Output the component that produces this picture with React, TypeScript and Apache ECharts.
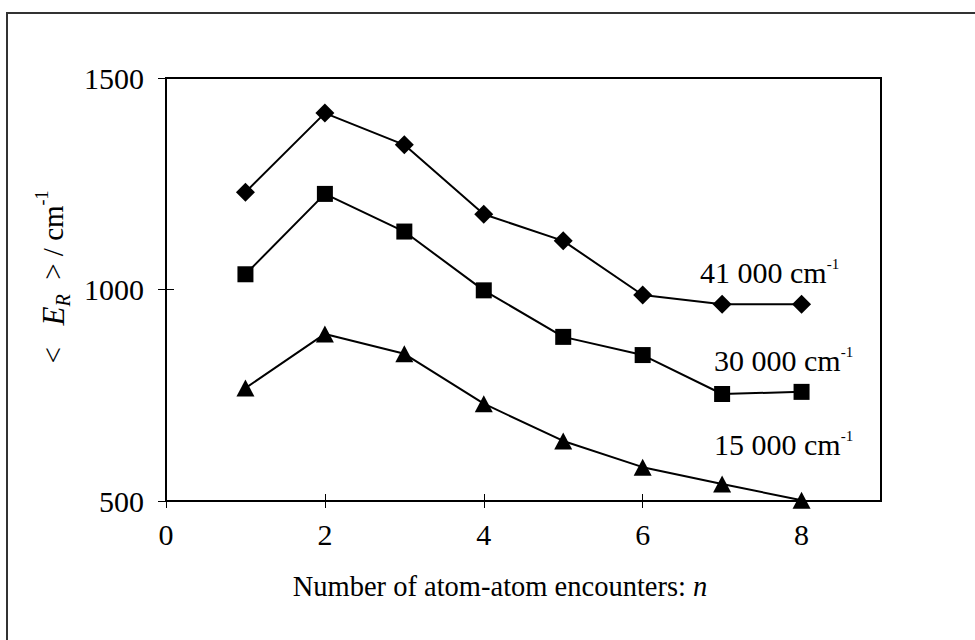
import React, { useEffect, useRef } from "react";
import * as echarts from "echarts";

// Number of atom-atom encounters n
const nValues = [1, 2, 3, 4, 5, 6, 7, 8];
// <E_R> / cm-1 for three excitation energies
const e41000 = [1230, 1417, 1342, 1178, 1115, 987, 965, 965];
const e30000 = [1036, 1226, 1137, 998, 888, 845, 753, 758];
const e15000 = [767, 895, 848, 730, 642, 580, 540, 502];
const seriesNames = ["41 000", "30 000", "15 000"];
const xTitle = "Number of atom-atom encounters: ";

const FONT = '"Liberation Serif", "Times New Roman", Times, serif';

export default function App() {
  const ref = useRef<HTMLDivElement>(null);

  useEffect(() => {
    document.body.style.margin = "0";
    const chart = echarts.init(ref.current as HTMLDivElement, null, { renderer: "svg" });
    const pts = (vals: number[]) => nValues.map((n, i) => [n, vals[i]]);
    const lineBase = {
      type: "line",
      xAxisIndex: 0,
      yAxisIndex: 0,
      lineStyle: { color: "#000", width: 2 },
      itemStyle: { color: "#000", borderWidth: 0 },
      emphasis: { disabled: true },
      silent: true,
    };
    const tickStyle = { color: "#000", width: 1 };
    const plain = (v: number) => String(v);
    const seriesLabel = (name: string, x: number, y: number) => ({
      type: "text",
      x,
      y,
      silent: true,
      style: {
        text: `{a|${name} cm}{s|-1}`,
        verticalAlign: "middle",
        align: "left",
        rich: {
          a: { fontFamily: FONT, fontSize: 30, fill: "#000", lineHeight: 32, verticalAlign: "middle" },
          s: { fontFamily: FONT, fontSize: 15, fill: "#000", lineHeight: 15, verticalAlign: "top" },
        },
      },
    });

    const option: any = {
      animation: false,
      backgroundColor: "#fff",
      textStyle: { fontFamily: FONT, color: "#000" },
      grid: {
        left: 166,
        top: 78,
        right: 94,
        bottom: 139,
        show: true,
        borderColor: "#000",
        borderWidth: 2,
        backgroundColor: "transparent",
      },
      xAxis: [
        {
          type: "value",
          min: 0,
          max: 9,
          interval: 2,
          position: "bottom",
          axisLine: { show: true, onZero: false, lineStyle: { color: "#000", width: 2 } },
          axisTick: { show: true, length: 7, lineStyle: tickStyle },
          axisLabel: { fontSize: 30, color: "#000", margin: 18, fontFamily: FONT, showMaxLabel: false, formatter: plain },
          splitLine: { show: false },
        },
        {
          type: "value",
          min: 0,
          max: 9,
          interval: 2,
          position: "bottom",
          axisLine: { show: false, onZero: false },
          axisTick: { show: true, inside: true, length: 7, lineStyle: tickStyle },
          axisLabel: { show: false },
          splitLine: { show: false },
        },
      ],
      yAxis: [
        {
          type: "value",
          min: 500,
          max: 1500,
          interval: 500,
          position: "left",
          axisLine: { show: true, onZero: false, lineStyle: { color: "#000", width: 2 } },
          axisTick: { show: true, length: 8, lineStyle: tickStyle },
          axisLabel: { fontSize: 30, color: "#000", margin: 22, fontFamily: FONT, formatter: plain },
          splitLine: { show: false },
        },
        {
          type: "value",
          min: 500,
          max: 1500,
          interval: 500,
          position: "left",
          axisLine: { show: false, onZero: false },
          axisTick: { show: true, inside: true, length: 8, lineStyle: tickStyle },
          axisLabel: { show: false },
          splitLine: { show: false },
        },
      ],
      series: [
        { ...lineBase, name: seriesNames[0], data: pts(e41000), symbol: "diamond", symbolSize: [19, 19] },
        { ...lineBase, name: seriesNames[1], data: pts(e30000), symbol: "rect", symbolSize: [16, 16] },
        { ...lineBase, name: seriesNames[2], data: pts(e15000), symbol: "triangle", symbolSize: [18, 17] },
      ],
      graphic: [
        {
          type: "rect",
          silent: true,
          shape: { x: 7, y: 13, width: 1100, height: 800 },
          style: { fill: "none", stroke: "#333", lineWidth: 2 },
          z: -10,
        },
        seriesLabel(seriesNames[0], 700, 272),
        seriesLabel(seriesNames[1], 714, 360),
        seriesLabel(seriesNames[2], 714, 444),
        {
          type: "text",
          x: 500,
          y: 586,
          silent: true,
          style: {
            text: `{a|${xTitle}}{i|n}`,
            align: "center",
            verticalAlign: "middle",
            rich: {
              a: { fontFamily: FONT, fontSize: 28.5, fill: "#000", lineHeight: 32 },
              i: { fontFamily: FONT, fontSize: 28.5, fontStyle: "italic", fill: "#000", lineHeight: 32 },
            },
          },
        },
        {
          type: "text",
          x: 53,
          y: 277,
          rotation: Math.PI / 2,
          silent: true,
          style: {
            text: "{a|<   }{i|E}{sub|R}{a|  > / cm}{sup|-1}",
            align: "center",
            verticalAlign: "middle",
            rich: {
              a: { fontFamily: FONT, fontSize: 29, fill: "#000", lineHeight: 40, verticalAlign: "middle" },
              i: { fontFamily: FONT, fontSize: 31, fontStyle: "italic", fill: "#000", lineHeight: 40, verticalAlign: "middle" },
              sub: { fontFamily: FONT, fontSize: 20, fontStyle: "italic", fill: "#000", lineHeight: 20, verticalAlign: "bottom" },
              sup: { fontFamily: FONT, fontSize: 18, fill: "#000", lineHeight: 18, verticalAlign: "top" },
            },
          },
        },
      ],
    };

    chart.setOption(option);
    return () => chart.dispose();
  }, []);

  return (
    <div
      ref={ref}
      style={{ position: "fixed", left: 0, top: 0, width: 975, height: 640, background: "#fff" }}
    />
  );
}
